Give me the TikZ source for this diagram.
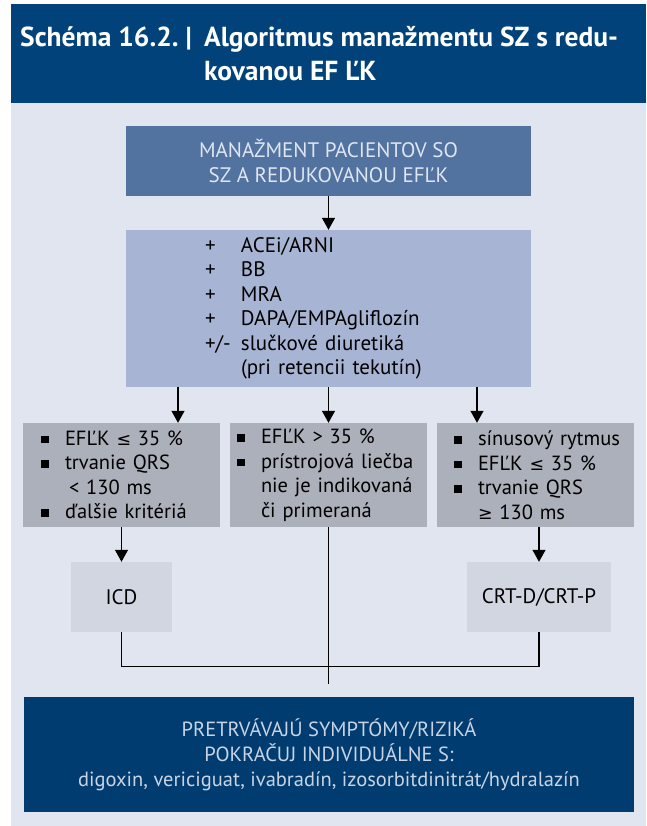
\documentclass[tikz,border=0pt]{standalone}
\usepackage{fontspec}
\setmainfont{PT Sans}
\newfontfamily\symf{DejaVu Sans}[Scale=0.85]
\usepackage{tikz}
\usetikzlibrary{positioning, arrows.meta}
\definecolor{navy}{RGB}{0,66,121}
\definecolor{navydk}{RGB}{0,60,112}
\definecolor{paper}{RGB}{225,229,240}
\definecolor{steel}{RGB}{82,114,160}
\definecolor{lilac}{RGB}{168,180,211}
\definecolor{slate}{RGB}{172,176,186}
\definecolor{mist}{RGB}{210,214,224}
\definecolor{pale}{RGB}{222,230,242}
\definecolor{paletx}{RGB}{200,212,228}
\newcommand\sqb{\makebox[24pt][l]{\rule[2pt]{7.5pt}{7.5pt}}}
\newcommand\lei{{\symf ≤}}
\newcommand\gei{{\symf ≥}}
\tikzset{
    ttl/.style={anchor=base west, inner sep=0pt, text=white, font=\fontsize{27.5}{34}\selectfont\bfseries},
    head/.style={rectangle, fill=steel, text=pale, minimum width=405pt, minimum height=70pt, align=center, font=\fontsize{21}{25}\selectfont},
    treat/.style={rectangle, fill=lilac, text=black, minimum width=405pt, minimum height=157pt, inner xsep=0pt, text width=247pt, align=left, font=\fontsize{21}{24.5}\selectfont},
    crit/.style={rectangle, fill=slate, text=black, minimum width=197pt, minimum height=104pt, align=left, font=\fontsize{20.5}{24.5}\selectfont},
    dev/.style={rectangle, fill=mist, text=black, minimum height=70pt, font=\fontsize{21}{24}\selectfont},
    tail/.style={rectangle, fill=navydk, text=paletx, minimum width=610pt, minimum height=115pt, align=center, font=\fontsize{20.5}{25}\selectfont},
    arr/.style={-{Triangle[width=13pt,length=12pt]}, line width=1.2pt},
    wire/.style={line width=1.2pt},
}
\begin{document}
\begin{tikzpicture}[x=1pt, y=-1pt]
    \useasboundingbox (0,0) rectangle (646,826);
    \fill[navy] (11,4) rectangle (646,103);
    \fill[paper] (11,103) rectangle (646,826);
    \node [ttl] (ttlnum) at (20,47) {Schéma 16.2.\hspace{7pt}|};
    \node [ttl] (ttlone) at (204,47) {Algoritmus manažmentu SZ s redu-};
    \node [ttl, yshift=-34pt] (ttltwo) at (ttlone.base west) {kovanou EF ĽK};
    \node [head] (mgmt) at (328.5,161) {MANAŽMENT PACIENTOV SO\\SZ A REDUKOVANOU EFĽK};
    \node [treat] (drugs) at (328.5,308.5) {%
        \makebox[36pt][l]{+}ACEi/ARNI\\
        \makebox[36pt][l]{+}BB\\
        \makebox[36pt][l]{+}MRA\\
        \makebox[36pt][l]{+}DAPA/EMPAgliflozín\\
        \makebox[36pt][l]{+/-}slučkové diuretiká\\
        \makebox[36pt][l]{}(pri retencii tekutín)};
    \node [crit, inner xsep=18pt, text width=161pt] (low) at (121.5,475) {%
        \sqb EFĽK \lei{} 35 \%\\
        \sqb trvanie QRS\\
        \hspace*{28pt}< 130 ms\\
        \sqb ďalšie kritériá};
    \node [crit, inner xsep=7pt, text width=183pt] (high) at (328.5,475) {%
        \sqb EFĽK > 35 \%\\
        \sqb prístrojová liečba\\
        \hspace*{24pt}nie je indikovaná\\
        \hspace*{24pt}či primeraná};
    \node [crit, inner xsep=17pt, text width=163pt] (wide) at (535.5,475) {%
        \sqb \mbox{sínusový rytmus}\\
        \sqb EFĽK \lei{} 35 \%\\
        \sqb trvanie QRS\\
        \hspace*{24pt}\gei{} 130 ms};
    \node [dev, minimum width=101pt] (icd) at (121.5,597) {ICD};
    \node [dev, minimum width=144pt] (crt) at (539,597) {CRT-D/CRT-P};
    \node [tail] (cont) at (329,754.5) {PRETRVÁVAJÚ SYMPTÓMY/RIZIKÁ\\POKRAČUJ INDIVIDUÁLNE S:\\digoxin, vericiguat, ivabradín, izosorbitdinitrát/hydralazín};
    \coordinate (aleft) at (178,0);
    \coordinate (amid) at (328.5,0);
    \coordinate (aright) at (477,0);
    \coordinate (stub) at (328.5,684);
    \draw[arr] (mgmt) -- (drugs);
    \draw[arr] (aleft |- drugs.south) -- (aleft |- low.north);
    \draw[arr] (amid |- drugs.south) -- (amid |- high.north);
    \draw[arr] (aright |- drugs.south) -- (aright |- wide.north);
    \draw[arr] (low) -- (icd);
    \draw[arr] (crt.north |- wide.south) -- (crt.north);
    \draw[wire] (icd.south) -- ++(0,34) -| (crt.south);
    \draw[wire] (high.south) -- (stub);
\end{tikzpicture}
\end{document}
